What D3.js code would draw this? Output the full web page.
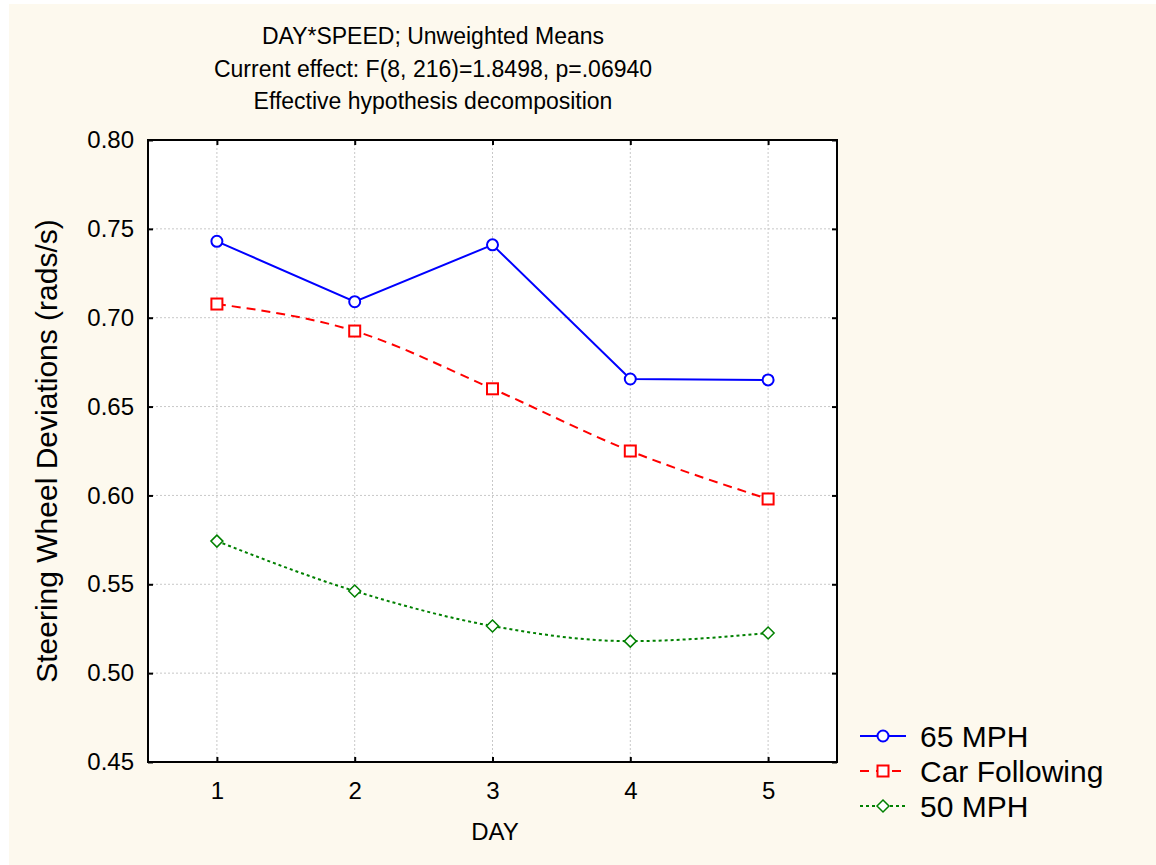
<!DOCTYPE html>
<html>
<head>
<meta charset="utf-8">
<script src="https://cdn.jsdelivr.net/npm/d3@7"></script>
<style>
  body { margin: 0; background: #ffffff; }
  svg { display: block; font-family: "Liberation Sans", Arial, sans-serif; }
</style>
</head>
<body>
<div id="chart"></div>
<script>
// data
var days = [1, 2, 3, 4, 5];
var mph65 = [0.743, 0.709, 0.741, 0.6655, 0.665];
var carFollowing = [0.7077, 0.6925, 0.660, 0.625, 0.598];
var mph50 = [0.5743, 0.5462, 0.5265, 0.518, 0.5226];
var yTicks = [0.45, 0.50, 0.55, 0.60, 0.65, 0.70, 0.75, 0.80];
var titleLines = ["DAY*SPEED; Unweighted Means",
                  "Current effect: F(8, 216)=1.8498, p=.06940",
                  "Effective hypothesis decomposition"];
var seriesNames = ["65 MPH", "Car Following", "50 MPH"];

var width = 1156, height = 865;
var margin = {top: 140, right: 319, bottom: 103, left: 148};
var plotW = width - margin.left - margin.right,
    plotH = height - margin.top - margin.bottom;

var svg = d3.select("#chart").append("svg")
    .attr("width", width)
    .attr("height", height);

svg.append("rect")
    .attr("x", 9).attr("y", 4)
    .attr("width", width - 9).attr("height", height - 4)
    .attr("fill", "#fdf9ee");

var g = svg.append("g")
    .attr("transform", "translate(" + margin.left + "," + margin.top + ")");

var x = d3.scaleLinear().domain([0.5, 5.5]).range([0, plotW]);
var y = d3.scaleLinear().domain([0.45, 0.80]).range([plotH, 0]);

g.append("rect")
    .attr("width", plotW).attr("height", plotH)
    .attr("fill", "white");

// grid
g.selectAll(".vgrid").data(days).enter().append("line")
    .attr("x1", function(d) { return x(d); })
    .attr("x2", function(d) { return x(d); })
    .attr("y1", 0).attr("y2", plotH)
    .attr("stroke", "#c8c8c8").attr("stroke-dasharray", "2,2");
g.selectAll(".hgrid").data(yTicks.slice(1, -1)).enter().append("line")
    .attr("y1", function(d) { return y(d); })
    .attr("y2", function(d) { return y(d); })
    .attr("x1", 0).attr("x2", plotW)
    .attr("stroke", "#c8c8c8").attr("stroke-dasharray", "2,2");

// axes, ticks inside
var axisL = g.append("g").call(d3.axisLeft(y).tickValues(yTicks).tickFormat(d3.format(".2f")).tickSize(-5).tickPadding(14));
var axisR = g.append("g").attr("transform", "translate(" + plotW + ",0)")
    .call(d3.axisRight(y).tickValues(yTicks).tickFormat("").tickSize(-5));
var axisB = g.append("g").attr("transform", "translate(0," + plotH + ")")
    .call(d3.axisBottom(x).tickValues(days).tickFormat(d3.format("d")).tickSize(-5).tickPadding(20));
var axisT = g.append("g")
    .call(d3.axisTop(x).tickValues(days).tickFormat("").tickSize(-5));
[axisL, axisR, axisB, axisT].forEach(function(a) {
  a.select(".domain").remove();
  a.selectAll(".tick line").attr("stroke", "black").attr("stroke-width", 2);
  a.selectAll("text").attr("font-size", "24px").attr("fill", "black")
    .style("font-family", '"Liberation Sans", Arial, sans-serif');
});

g.append("rect")
    .attr("width", plotW).attr("height", plotH)
    .attr("fill", "none").attr("stroke", "black").attr("stroke-width", 2);

// series
var series = [
  {values: mph65, color: "#0000ff", dash: null, curve: d3.curveLinear, marker: "circle"},
  {values: carFollowing, color: "#ff0000", dash: "9,6", curve: d3.curveMonotoneX, marker: "square"},
  {values: mph50, color: "#008000", dash: "3,3", curve: d3.curveMonotoneX, marker: "diamond"}
];

function drawMarker(sel, type, color, cx, cy) {
  if (type == "circle") {
    sel.append("circle").attr("cx", cx).attr("cy", cy).attr("r", 5.5)
      .attr("fill", "white").attr("stroke", color).attr("stroke-width", 2);
  } else if (type == "square") {
    sel.append("rect").attr("x", cx - 5.5).attr("y", cy - 5.5)
      .attr("width", 11).attr("height", 11)
      .attr("fill", "white").attr("stroke", color).attr("stroke-width", 2);
  } else {
    sel.append("path")
      .attr("d", "M" + cx + "," + (cy - 6) + "L" + (cx + 6) + "," + cy + "L" + cx + "," + (cy + 6) + "L" + (cx - 6) + "," + cy + "Z")
      .attr("fill", "white").attr("stroke", color).attr("stroke-width", 1.5);
  }
}

series.forEach(function(s) {
  var line = d3.line()
      .x(function(d, i) { return x(days[i]); })
      .y(function(d) { return y(d); })
      .curve(s.curve);
  g.append("path")
      .datum(s.values)
      .attr("d", line)
      .attr("fill", "none")
      .attr("stroke", s.color)
      .attr("stroke-width", 2)
      .attr("stroke-dasharray", s.dash);
  s.values.forEach(function(v, i) {
    drawMarker(g, s.marker, s.color, x(days[i]), y(v));
  });
});

// titles
var titleY = [44, 77, 109];
svg.selectAll(".title").data(titleLines).enter().append("text")
    .attr("x", 433)
    .attr("y", function(d, i) { return titleY[i]; })
    .attr("text-anchor", "middle")
    .attr("font-size", "23px")
    .text(function(d) { return d; });

svg.append("text")
    .attr("transform", "translate(57," + (margin.top + plotH / 2) + ")rotate(-90)")
    .attr("text-anchor", "middle")
    .attr("font-size", "30px")
    .text("Steering Wheel Deviations (rads/s)");

svg.append("text")
    .attr("x", 495).attr("y", 840)
    .attr("text-anchor", "middle")
    .attr("font-size", "24px")
    .text("DAY");

// legend
var legend = svg.append("g").attr("transform", "translate(860,736)");
series.forEach(function(s, i) {
  var row = legend.append("g").attr("transform", "translate(0," + i * 35 + ")");
  row.append("line")
      .attr("x1", 0).attr("x2", 46).attr("y1", 0).attr("y2", 0)
      .attr("stroke", s.color).attr("stroke-width", 2)
      .attr("stroke-dasharray", s.dash == null ? null : (i == 1 ? "9,7" : "3,3"));
  drawMarker(row, s.marker, s.color, 23, 0);
  row.append("text")
      .attr("x", 60).attr("y", 11)
      .attr("font-size", "30px")
      .text(seriesNames[i]);
});
</script>
</body>
</html>
